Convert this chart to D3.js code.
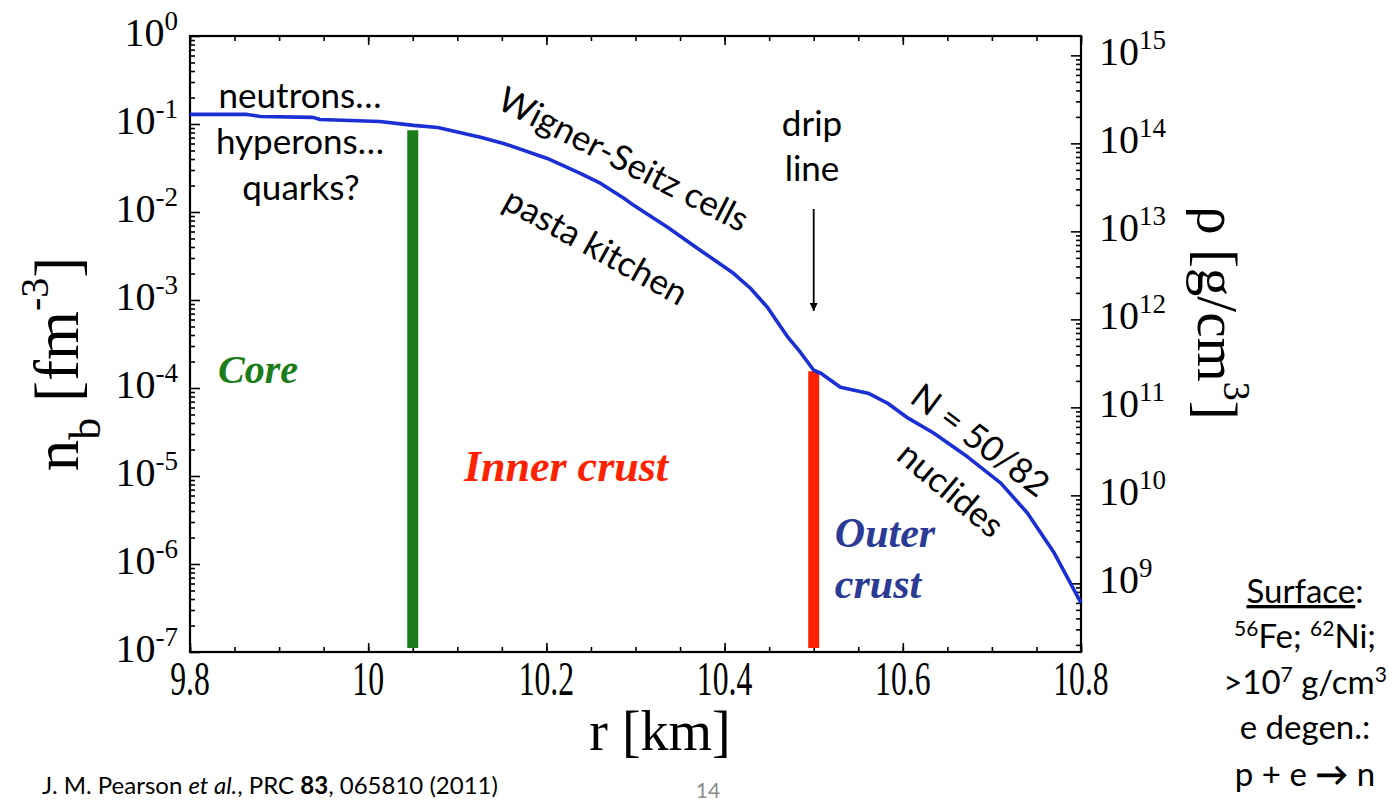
<!DOCTYPE html>
<html>
<head>
<meta charset="utf-8">
<script src="https://cdn.jsdelivr.net/npm/d3@7"></script>
<style>
  html, body { margin: 0; padding: 0; background: #fff; }
  svg { display: block; }
</style>
</head>
<body>
<svg id="chart" width="1397" height="802"></svg>
<script>
// Baryon density profile of a neutron star across core and crust
const radiusKm = [9.80, 9.864, 9.879, 9.938, 9.946, 10.013, 10.051, 10.078, 10.126, 10.152,
  10.201, 10.238, 10.261, 10.287, 10.298, 10.336, 10.373, 10.410, 10.429, 10.448, 10.471,
  10.485, 10.500, 10.508, 10.530, 10.561, 10.583, 10.606, 10.635, 10.673, 10.710,
  10.740, 10.770, 10.800];
const baryonDensity = [0.1285, 0.1285, 0.1219, 0.1189, 0.1127, 0.1069, 0.0964, 0.0914, 0.0705, 0.0601,
  0.0406, 0.0275, 0.0211, 0.0143, 0.0119, 0.0067, 0.00366, 0.00201, 0.00136, 8.26e-4, 3.78e-4,
  2.55e-4, 1.59e-4, 1.47e-4, 1.02e-4, 8.73e-5, 6.71e-5, 4.54e-5, 3.06e-5, 1.64e-5, 8.30e-6,
  3.78e-6, 1.33e-6, 3.61e-7];

// Boundaries: crust-core transition and neutron drip
const boundaryRadius = [10.05, 10.5];
const boundaryTop = [0.085, 1.55e-4];
const boundaryColor = ["#1a7d1a", "#ff2200"];

// Axis ticks
const xTicks = [9.8, 10.0, 10.2, 10.4, 10.6, 10.8];
const xMinorTicks = d3.range(0, 21).map(i => +(9.8 + i * 0.05).toFixed(2));
const nbExponents = [0, -1, -2, -3, -4, -5, -6, -7];
const rhoExponents = [15, 14, 13, 12, 11, 10, 9];
const gramsPerFm3 = 1.66e15; // rho [g/cm^3] per n_b [fm^-3]

const svg = d3.select("#chart");
const serif = "'Liberation Serif', 'Times New Roman', serif";
const sans = "Lato, 'Open Sans', sans-serif";

const plotLeft = 190, plotRight = 1081, plotTop = 36, plotBottom = 652;
const x = d3.scaleLinear().domain([9.8, 10.8]).range([plotLeft, plotRight]);
const y = d3.scaleLog().domain([1e-7, 1]).range([plotBottom, plotTop]);
const yRho = d3.scaleLog().domain([1e-7 * gramsPerFm3, gramsPerFm3]).range([plotBottom, plotTop]);

// log minor tick values
function logMinor(lo, hi) {
  const v = [];
  for (let e = lo; e < hi; e++) for (let m = 2; m <= 9; m++) v.push(m * Math.pow(10, e));
  return v;
}
const nbMinor = logMinor(-7, 0);
const rhoMinor = logMinor(8, 15).filter(v => v >= yRho.domain()[0] && v <= yRho.domain()[1]);

function tickGroup(axis, transform) {
  const g = svg.append("g").attr("transform", transform).call(axis);
  g.select(".domain").remove();
  g.selectAll("text").remove();
  g.selectAll("line").attr("stroke", "#000").attr("stroke-width", 1.6);
  return g;
}
// bottom & top ticks (inward)
tickGroup(d3.axisBottom(x).tickValues(xMinorTicks).tickSize(-5), `translate(0,${plotBottom})`);
tickGroup(d3.axisBottom(x).tickValues(xTicks).tickSize(-9), `translate(0,${plotBottom})`);
tickGroup(d3.axisTop(x).tickValues(xMinorTicks).tickSize(-5), `translate(0,${plotTop})`);
tickGroup(d3.axisTop(x).tickValues(xTicks).tickSize(-9), `translate(0,${plotTop})`);
// left ticks
tickGroup(d3.axisLeft(y).tickValues(nbMinor).tickSize(-5), `translate(${plotLeft},0)`);
tickGroup(d3.axisLeft(y).tickValues(nbExponents.map(e => Math.pow(10, e))).tickSize(-10), `translate(${plotLeft},0)`);
// right ticks
tickGroup(d3.axisRight(yRho).tickValues(rhoMinor).tickSize(-5), `translate(${plotRight},0)`);
tickGroup(d3.axisRight(yRho).tickValues(rhoExponents.map(e => Math.pow(10, e))).tickSize(-10), `translate(${plotRight},0)`);

// frame
svg.append("rect")
  .attr("x", plotLeft).attr("y", plotTop)
  .attr("width", plotRight - plotLeft).attr("height", plotBottom - plotTop)
  .attr("fill", "none").attr("stroke", "#000").attr("stroke-width", 2.2);

// x tick labels (narrow serif digits)
svg.append("g").selectAll("text").data(xTicks).join("text")
  .attr("x", d => x(d)).attr("y", plotBottom + 43)
  .attr("text-anchor", "middle")
  .attr("font-family", serif).attr("font-size", 48)
  .attr("transform", d => `translate(${x(d)},0) scale(0.66,1) translate(${-x(d)},0)`)
  .text(d => d3.format(".1~f")(d));

// left tick labels: 10^e
const lt = svg.append("g").selectAll("text").data(nbExponents).join("text")
  .attr("x", 178).attr("y", d => y(Math.pow(10, d)) + 10)
  .attr("text-anchor", "end")
  .attr("font-family", serif).attr("font-size", 40);
lt.append("tspan").text("10");
lt.append("tspan").attr("dy", -16).attr("font-size", 27).text(d => String(d));

// right tick labels
const rt = svg.append("g").selectAll("text").data(rhoExponents).join("text")
  .attr("x", 1099).attr("y", d => yRho(Math.pow(10, d)) + 10)
  .attr("font-family", serif).attr("font-size", 40);
rt.append("tspan").text("10");
rt.append("tspan").attr("dy", -16).attr("font-size", 27).text(d => String(d));

// axis titles
svg.append("text")
  .attr("x", 660).attr("y", 750).attr("text-anchor", "middle")
  .attr("font-family", serif).attr("font-size", 56)
  .text("r [km]");

const ly = svg.append("text")
  .attr("transform", "translate(78,364) rotate(-90)")
  .attr("text-anchor", "middle")
  .attr("font-family", serif).attr("font-size", 63);
ly.append("tspan").text("n");
ly.append("tspan").attr("font-size", 44).attr("dy", 22).text("b");
ly.append("tspan").attr("dy", -22).text(" [fm");
ly.append("tspan").attr("font-size", 40).attr("dy", -30).text("-3");
ly.append("tspan").attr("dy", 30).text("]");

const ry = svg.append("text")
  .attr("transform", "translate(1198,313) rotate(90)")
  .attr("text-anchor", "middle")
  .attr("font-family", serif).attr("font-size", 57);
ry.append("tspan").text("ρ [g/cm");
ry.append("tspan").attr("font-size", 38).attr("dy", -26).text("3");
ry.append("tspan").attr("dy", 26).text("]");

// boundary bars
svg.append("g").selectAll("line").data(boundaryRadius).join("line")
  .attr("x1", d => x(d)).attr("x2", d => x(d))
  .attr("y1", y(1e-7) - 4).attr("y2", (d, i) => y(boundaryTop[i]))
  .attr("stroke", (d, i) => boundaryColor[i]).attr("stroke-width", 11);

// density curve
const profile = radiusKm.map((r, i) => [r, baryonDensity[i]]);
svg.append("path")
  .datum(profile)
  .attr("fill", "none").attr("stroke", "#1a2fd4").attr("stroke-width", 3.6)
  .attr("stroke-linejoin", "round")
  .attr("d", d3.line().x(d => x(d[0])).y(d => y(d[1])));

// annotations
function label(txt, px, py, opts = {}) {
  return svg.append("text")
    .attr("x", px).attr("y", py)
    .attr("text-anchor", opts.anchor || "middle")
    .attr("font-family", opts.family || sans)
    .attr("font-size", opts.size || 35)
    .attr("font-weight", opts.weight || null)
    .attr("font-style", opts.style || null)
    .attr("fill", opts.fill || "#000")
    .attr("transform", opts.rotate ? `rotate(${opts.rotate},${px},${py})` : null)
    .text(txt);
}
label("neutrons…", 300, 108);
label("hyperons…", 300, 154);
label("quarks?", 301, 200);
label("Wigner-Seitz cells", 618, 170, { rotate: 27 });
label("pasta kitchen", 590, 257, { rotate: 29 });
label("drip", 812, 136);
label("line", 812, 181);
label("N = 50/82", 973, 450, { rotate: 37 });
label("nuclides", 943, 499, { rotate: 40 });

// arrow towards the drip line
svg.append("defs").append("marker")
  .attr("id", "head").attr("viewBox", "0 0 10 10")
  .attr("refX", 10).attr("refY", 5)
  .attr("markerWidth", 8).attr("markerHeight", 10)
  .attr("markerUnits", "userSpaceOnUse")
  .attr("orient", "auto")
  .append("path").attr("d", "M0,0 L10,5 L0,10 Z").attr("fill", "#000");
svg.append("line")
  .attr("x1", x(10.5)).attr("x2", x(10.5))
  .attr("y1", 209).attr("y2", 311)
  .attr("stroke", "#000").attr("stroke-width", 1.8)
  .attr("marker-end", "url(#head)");

label("Core", 258, 383, { family: serif, size: 40, weight: "bold", style: "italic", fill: "#1a7d1a" });
label("Inner crust", 566, 481, { family: serif, size: 44, weight: "bold", style: "italic", fill: "#ff2200" });
label("Outer", 885, 547, { family: serif, size: 42, weight: "bold", style: "italic", fill: "#2b3a94" });
label("crust", 878, 598, { family: serif, size: 42, weight: "bold", style: "italic", fill: "#2b3a94" });

// surface note
const note = svg.append("g").attr("font-family", sans).attr("font-size", 33).attr("text-anchor", "middle");
const l1 = note.append("text").attr("x", 1305).attr("y", 603);
l1.append("tspan").attr("text-decoration", "underline").text("Surface");
l1.append("tspan").text(":");
const l2 = note.append("text").attr("x", 1305).attr("y", 648);
l2.append("tspan").attr("font-size", 21).attr("dy", -12).text("56");
l2.append("tspan").attr("dy", 12).text("Fe; ");
l2.append("tspan").attr("font-size", 21).attr("dy", -12).text("62");
l2.append("tspan").attr("dy", 12).text("Ni;");
const l3 = note.append("text").attr("x", 1305).attr("y", 694);
l3.append("tspan").text(">10");
l3.append("tspan").attr("font-size", 21).attr("dy", -12).text("7");
l3.append("tspan").attr("dy", 12).text(" g/cm");
l3.append("tspan").attr("font-size", 21).attr("dy", -12).text("3");
note.append("text").attr("x", 1305).attr("y", 739).text("e degen.:");
const l5 = note.append("text").attr("x", 1305).attr("y", 786);
l5.append("tspan").text("p + e ");
l5.append("tspan").attr("font-weight", "bold").text("→");
l5.append("tspan").text(" n");

// citation and page number
const cite = svg.append("text").attr("x", 42).attr("y", 794)
  .attr("font-family", sans).attr("font-size", 24);
cite.append("tspan").text("J. M. Pearson ");
cite.append("tspan").attr("font-style", "italic").text("et al.");
cite.append("tspan").text(", PRC ");
cite.append("tspan").attr("font-weight", "bold").text("83");
cite.append("tspan").text(", 065810 (2011)");
svg.append("text").attr("x", 708).attr("y", 798).attr("text-anchor", "middle")
  .attr("font-family", sans).attr("font-size", 21).attr("fill", "#8a8a8a").text("14");
</script>
</body>
</html>
